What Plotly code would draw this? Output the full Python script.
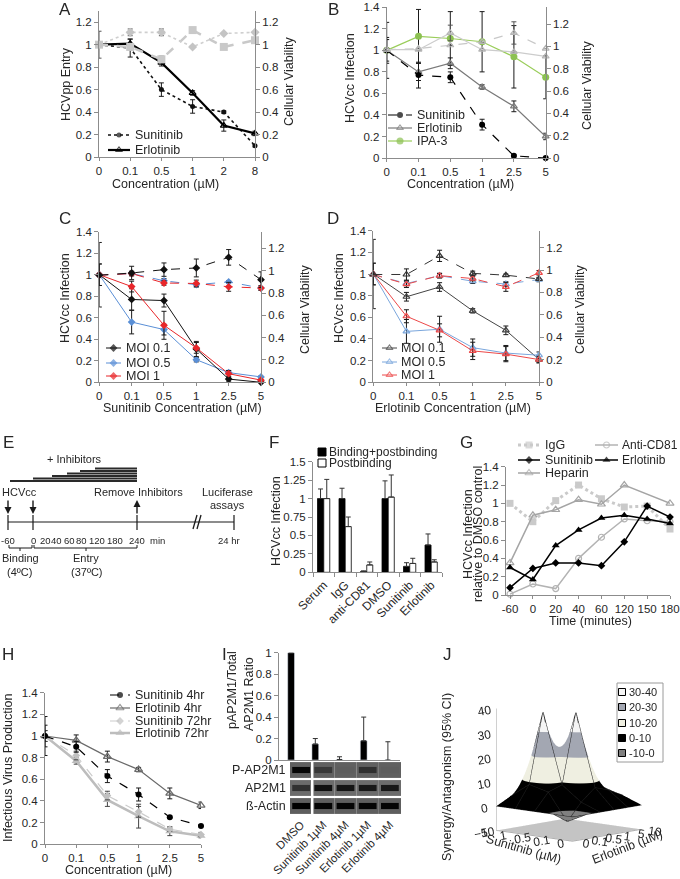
import plotly.graph_objects as go

W, H = 680, 879
FONT = "Liberation Sans, Arial, Helvetica, sans-serif"
TXT = "#262626"
AXC = "#8c8c8c"


def X(px):
    return px / W


def Y(py):
    return 1 - py / H


# ======================= DATA =======================
# Panel A
A_conc = ["0", "0.1", "0.5", "1", "2", "8"]
A_sunitinib = [1.00, 0.97, 0.60, 0.45, 0.40, 0.10]
A_sunitinib_err = [0.0, 0.08, 0.06, 0.06, 0.01, 0.01]
A_erlotinib = [1.00, 1.01, 0.84, 0.57, 0.28, 0.21]
A_erlotinib_err = [0.0, 0.04, 0.03, 0.02, 0.05, 0.02]
A_viab_sunitinib = [1.00, 1.11, 1.11, 0.98, 1.10, 1.11]
A_viab_sunitinib_err = [0.12, 0.03, 0.03, 0.0, 0.0, 0.0]
A_viab_erlotinib = [1.00, 0.98, 0.87, 1.13, 0.98, 1.04]
A_viab_erlotinib_err = [0.0, 0.0, 0.03, 0.0, 0.0, 0.0]

# Panel B
B_conc = ["0", "0.1", "0.5", "1", "2.5", "5"]
B_sunitinib = [1.00, 0.77, 0.75, 0.31, 0.02, 0.00]
B_sunitinib_err = [0.12, 0.12, 0.05, 0.05, 0.01, 0.005]
B_erlotinib = [1.00, 0.80, 0.88, 0.66, 0.48, 0.20]
B_erlotinib_err = [0.10, 0.08, 0.05, 0.02, 0.05, 0.03]
B_ipa3 = [1.00, 1.13, 1.11, 1.08, 0.94, 0.75]
B_ipa3_err = [0.26, 0.25, 0.25, 0.28, 0.29, 0.20]
B_viab_sunitinib = [0.97, 0.98, 1.01, 1.04, 1.12, 0.98]
B_viab_sunitinib_err = [0.0, 0.0, 0.0, 0.0, 0.10, 0.0]
B_viab_erlotinib = [0.97, 0.97, 1.12, 0.97, 0.95, 0.91]
B_viab_erlotinib_err = [0.0, 0.0, 0.07, 0.0, 0.0, 0.0]

# Panel C (Sunitinib, MOI series)
C_conc = ["0", "0.1", "0.5", "1", "2.5", "5"]
C_moi01 = [1.00, 0.77, 0.76, 0.31, 0.03, 0.00]
C_moi01_err = [0.30, 0.10, 0.06, 0.07, 0.02, 0.01]
C_moi05 = [1.00, 0.56, 0.49, 0.21, 0.09, 0.05]
C_moi05_err = [0.10, 0.11, 0.05, 0.02, 0.02, 0.01]
C_moi1 = [1.00, 0.89, 0.53, 0.32, 0.08, 0.02]
C_moi1_err = [0.10, 0.05, 0.13, 0.05, 0.03, 0.01]
C_viab_moi01 = [0.96, 0.98, 1.01, 1.025, 1.12, 0.92]
C_viab_moi01_err = [0.0, 0.06, 0.06, 0.08, 0.07, 0.07]
C_viab_moi05 = [0.96, 0.975, 0.91, 0.875, 0.90, 0.845]
C_viab_moi05_err = [0.0, 0.02, 0.02, 0.02, 0.01, 0.02]
C_viab_moi1 = [0.96, 0.975, 0.89, 0.886, 0.856, 0.845]
C_viab_moi1_err = [0.0, 0.02, 0.02, 0.03, 0.04, 0.02]

# Panel D (Erlotinib, MOI series)
D_conc = ["0", "0.1", "0.5", "1", "2.5", "5"]
D_moi01 = [1.00, 0.79, 0.88, 0.66, 0.48, 0.21]
D_moi01_err = [0.32, 0.04, 0.04, 0.02, 0.04, 0.03]
D_moi05 = [1.00, 0.47, 0.49, 0.32, 0.27, 0.25]
D_moi05_err = [0.10, 0.11, 0.12, 0.08, 0.07, 0.03]
D_moi1 = [1.00, 0.61, 0.48, 0.29, 0.26, 0.21]
D_moi1_err = [0.10, 0.06, 0.06, 0.08, 0.07, 0.03]
D_viab_moi01 = [0.96, 0.96, 1.126, 0.97, 0.954, 0.92]
D_viab_moi01_err = [0.0, 0.05, 0.05, 0.02, 0.01, 0.01]
D_viab_moi05 = [0.96, 0.88, 0.95, 0.90, 0.875, 0.915]
D_viab_moi05_err = [0.0, 0.02, 0.02, 0.02, 0.02, 0.02]
D_viab_moi1 = [0.96, 0.874, 0.95, 0.924, 0.85, 0.975]
D_viab_moi1_err = [0.0, 0.03, 0.02, 0.02, 0.04, 0.02]

# Panel F
F_groups = ["Serum", "IgG", "anti-CD81", "DMSO", "Sunitinib", "Erlotinib"]
F_binding_post = [1.00, 1.00, 0.01, 1.00, 0.08, 0.37]
F_binding_post_err = [0.13, 0.14, 0.01, 0.24, 0.05, 0.15]
F_postbinding = [1.00, 0.62, 0.10, 1.02, 0.12, 0.14]
F_postbinding_err = [0.26, 0.13, 0.04, 0.30, 0.07, 0.03]
F_yticks = [0, 0.25, 0.5, 0.75, 1, 1.25, 1.5]
F_yticklabels = ["0", "0.25", "0.5", "0.75", "1", "1.25", "1.5"]

# Panel G
G_time = ["-60", "0", "20", "40", "60", "120", "150", "180"]
G_igg = [1.00, 0.80, 1.03, 1.20, 1.05, 0.96, 0.97, 0.72]
G_anti_cd81 = [0.01, 0.12, 0.07, 0.40, 0.63, 0.83, 0.81, 0.80]
G_sunitinib = [0.08, 0.29, 0.35, 0.35, 0.32, 0.58, 0.97, 0.85]
G_erlotinib = [0.30, 0.17, 0.54, 0.71, 0.84, 0.87, 0.83, 0.78]
G_heparin = [0.35, 0.87, 0.93, 1.04, 0.99, 1.20, None, 1.00]

# Panel H
H_conc = ["0", "0.1", "0.5", "1", "2.5", "5"]
H_sun_4hr = [1.00, 0.90, 0.63, 0.46, 0.25, 0.17]
H_sun_4hr_err = [0.18, 0.05, 0.06, 0.06, 0.01, 0.01]
H_erl_4hr = [1.00, 0.96, 0.81, 0.69, 0.47, 0.36]
H_erl_4hr_err = [0.10, 0.05, 0.05, 0.02, 0.05, 0.03]
H_sun_72hr = [1.00, 0.82, 0.45, 0.30, 0.14, 0.09]
H_sun_72hr_err = [0.05, 0.04, 0.04, 0.05, 0.02, 0.02]
H_erl_72hr = [1.00, 0.77, 0.41, 0.26, 0.12, 0.08]
H_erl_72hr_err = [0.05, 0.03, 0.06, 0.11, 0.04, 0.02]

# Panel I
I_lanes = ["DMSO", "Sunitinib 1µM", "Sunitinib 4µM", "Erlotinib 1µM", "Erlotinib 4µM"]
I_ratio = [1.00, 0.15, 0.005, 0.18, 0.0]
I_ratio_err = [0.0, 0.05, 0.025, 0.22, 0.17]
I_blot_rows = ["P-AP2M1", "AP2M1", "ß-Actin"]
I_band_p_ap2m1 = [0.90, 0.22, 0.05, 0.35, 0.05]
I_band_ap2m1 = [0.40, 0.80, 0.75, 0.70, 0.70]
I_band_actin = [1.00, 0.95, 0.95, 0.95, 0.95]

# Panel J
J_sunitinib = ["0", "0.1", "0.5", "1", "5"]
J_erlotinib = ["0", "0.1", "0.5", "1", "5", "10"]
J_synergy = [
    [0, 0, 0, 0, 0, 0],
    [0, -4, 3, 8, 6, 3],
    [0, 7, 9, 38, 9, 5],
    [0, 9, 38, 9, 7, 4],
    [0, 3, 6, 5, 3, 2],
]
J_bins = ["30-40", "20-30", "10-20", "0-10", "-10-0"]
J_bin_colors = ["#f5f5f5", "#a3a7b2", "#efefe1", "#000000", "#808080"]

# ======================= FIGURE =======================
fig = go.Figure()
axes = {}
annotations = []
shapes = []


def tfont(size=11, color=TXT):
    return dict(family=FONT, size=size, color=color)


def add_x(name, x0, x1, anchor, **kw):
    d = dict(domain=[X(x0), X(x1)], anchor=anchor, showline=True, linecolor=AXC,
             linewidth=1, ticks="outside", ticklen=3, tickcolor=AXC, showgrid=False,
             zeroline=False, tickfont=tfont(11.5), fixedrange=True, automargin=False)
    d.update(kw)
    axes[name] = d


def add_y(name, ytop, ybot, anchor, rng, dtick=0.2, **kw):
    d = dict(domain=[Y(ybot), Y(ytop)], anchor=anchor, range=rng, dtick=dtick, tick0=0,
             showline=True, linecolor=AXC, linewidth=1, ticks="outside", ticklen=4,
             tickcolor=AXC, showgrid=False, zeroline=False, tickfont=tfont(11.5),
             fixedrange=True, automargin=False)
    d.update(kw)
    axes[name] = d


def ann(text, px, py, size=12, angle=0, xanchor="center", yanchor="middle", color=TXT):
    annotations.append(dict(text=text, x=X(px), y=Y(py), xref="paper", yref="paper",
                            showarrow=False, font=tfont(size, color), textangle=angle,
                            xanchor=xanchor, yanchor=yanchor))


def series(x, y, xa, ya, color, dash="solid", width=1.2, symbol="circle", size=6,
           mcolor=None, err=None, errcolor="#1a1a1a", errwidth=2.5, connectgaps=False):
    mc = mcolor or color
    marker = dict(symbol=symbol, size=size, color=mc,
                  line=dict(width=1.2 if "open" in symbol else 0, color=mc))
    tr = go.Scatter(x=x, y=y, xaxis=xa, yaxis=ya, mode="lines+markers",
                    line=dict(color=color, dash=dash, width=width), marker=marker,
                    cliponaxis=False, showlegend=False, hoverinfo="skip",
                    connectgaps=connectgaps)
    if err is not None:
        tr.error_y = dict(type="data", array=err, visible=True, color=errcolor,
                          thickness=1, width=errwidth)
    fig.add_trace(tr)


# overlay axis in pixel units (legends + schematic E)
axes["xaxis11"] = dict(domain=[0, 1], range=[0, W], visible=False, fixedrange=True,
                       anchor="y15", automargin=False)
axes["yaxis15"] = dict(domain=[0, 1], range=[H, 0], visible=False, fixedrange=True,
                       anchor="x11", automargin=False)


def leg(x0, x1, py, label, color, dash="solid", width=1.2, symbol="circle", size=6,
        mcolor=None, tx=None, fs=12):
    mc = mcolor or color
    fig.add_trace(go.Scatter(
        x=[x0, (x0 + x1) / 2, x1], y=[py, py, py], xaxis="x11", yaxis="y15",
        mode="lines+markers", line=dict(color=color, dash=dash, width=width),
        marker=dict(symbol=symbol, size=[0, size, 0], color=mc,
                    line=dict(width=1.2 if "open" in symbol else 0, color=mc)),
        showlegend=False, hoverinfo="skip", cliponaxis=False))
    ann(label, tx if tx is not None else x1 + 3, py, fs, xanchor="left")


def seg(xs, ys, color="#1a1a1a", width=1.2):
    fig.add_trace(go.Scatter(x=xs, y=ys, xaxis="x11", yaxis="y15", mode="lines",
                             line=dict(color=color, width=width), showlegend=False,
                             hoverinfo="skip", cliponaxis=False))


# ---------------- Panel A ----------------
add_x("xaxis", 99, 255, "y", type="category", range=[0, 5])
add_y("yaxis", 11, 157, "x", [0, 1.3])
add_y("yaxis2", 11, 157, "x", [0, 1.3], overlaying="y", side="right")
series(A_conc, A_viab_erlotinib, "x", "y2", "#c9c9c9", "dash", 2.5, "square", 8,
       err=A_viab_erlotinib_err, errcolor="#9a9a9a")
series(A_conc, A_viab_sunitinib, "x", "y2", "#cfcfcf", "dot", 1.6, "diamond", 7,
       mcolor="#c4c4c4", err=A_viab_sunitinib_err, errcolor="#555555")
series(A_conc, A_sunitinib, "x", "y", "#111111", "dot", 1.6, "circle", 5,
       err=A_sunitinib_err)
series(A_conc, A_erlotinib, "x", "y", "#000000", "solid", 2.2, "triangle-up-open", 6,
       err=A_erlotinib_err)
ann("A", 65, 10, 17)
ann("HCVpp Entry", 66, 84, 12.5, -90)
ann("Cellular Viability", 289, 82, 12.5, -90)
ann("Concentration (µM)", 165, 184, 12.5)
leg(108, 130, 135, "Sunitinib", "#111111", "dot", 1.6, "circle", 5, fs=12.5)
leg(108, 130, 150, "Erlotinib", "#000000", "solid", 2.2, "triangle-up-open", 6, fs=12.5)

# ---------------- Panel B ----------------
add_x("xaxis2", 386.7, 545.7, "y3", type="category", range=[0, 5])
add_y("yaxis3", 7.3, 158, "x2", [0, 1.4])
add_y("yaxis4", 7.3, 158, "x2", [0, 1.35], overlaying="y3", side="right")
series(B_conc, B_viab_sunitinib, "x2", "y4", "#c8c8c8", "dash", 1.2, "triangle-up-open", 6,
       mcolor="#b5b5b5", err=B_viab_sunitinib_err, errcolor="#555555")
series(B_conc, B_viab_erlotinib, "x2", "y4", "#cccccc", "solid", 1.2, "triangle-up-open", 6,
       mcolor="#b5b5b5", err=B_viab_erlotinib_err, errcolor="#555555")
series(B_conc, B_ipa3, "x2", "y3", "#9acd5a", "solid", 1.2, "circle", 7,
       mcolor="#8cc152", err=B_ipa3_err)
series(B_conc, B_erlotinib, "x2", "y3", "#7a7a7a", "solid", 1.2, "triangle-up-open", 6,
       err=B_erlotinib_err)
series(B_conc, B_sunitinib, "x2", "y3", "#000000", "dash", 1.2, "circle", 6,
       err=B_sunitinib_err)
ann("B", 333, 10, 17)
ann("HCVcc Infection", 350, 78, 12.5, -90)
ann("Cellular Viability", 587, 86, 12.5, -90)
ann("Concentration (µM)", 460, 184, 12.5)
leg(388, 412, 115, "Sunitinib", "#000000", "dash", 1.2, "circle", 6, fs=12.5)
leg(388, 412, 128, "Erlotinib", "#7a7a7a", "solid", 1.2, "triangle-up-open", 6, fs=12.5)
leg(388, 412, 141, "IPA-3", "#9acd5a", "solid", 1.2, "circle", 7, mcolor="#8cc152", fs=12.5)

# ---------------- Panel C ----------------
BLUE_C, RED_C = "#5a8fd6", "#e8262a"
add_x("xaxis3", 99.3, 261, "y5", type="category", range=[0, 5])
add_y("yaxis5", 231.7, 382.3, "x3", [0, 1.4])
add_y("yaxis6", 231.7, 382.3, "x3", [0, 1.35], overlaying="y5", side="right")
series(C_conc, C_viab_moi05, "x3", "y6", BLUE_C, "dash", 1.0, "diamond", 6, err=C_viab_moi05_err)
series(C_conc, C_viab_moi1, "x3", "y6", RED_C, "dash", 1.0, "diamond", 6, err=C_viab_moi1_err)
series(C_conc, C_viab_moi01, "x3", "y6", "#111111", "dash", 1.0, "diamond", 6, err=C_viab_moi01_err)
series(C_conc, C_moi05, "x3", "y5", BLUE_C, "solid", 1.0, "diamond", 6, err=C_moi05_err)
series(C_conc, C_moi01, "x3", "y5", "#111111", "solid", 1.0, "diamond", 6, err=C_moi01_err)
series(C_conc, C_moi1, "x3", "y5", RED_C, "solid", 1.0, "diamond", 6, err=C_moi1_err)
ann("C", 65, 219, 17)
ann("HCVcc Infection", 65, 298, 12.5, -90)
ann("Cellular Viability", 305, 310, 12.5, -90)
ann("Sunitinib Concentration (µM)", 182, 408, 12.5)
leg(106, 121, 348, "MOI 0.1", "#111111", "solid", 1.0, "diamond", 6, tx=124, fs=12.5)
leg(106, 121, 363, "MOI 0.5", BLUE_C, "solid", 1.0, "diamond", 6, tx=124, fs=12.5)
leg(106, 121, 376, "MOI 1", RED_C, "solid", 1.0, "diamond", 6, tx=124, fs=12.5)

# ---------------- Panel D ----------------
BLUE_D, RED_D = "#7aa6dc", "#ec4848"
add_x("xaxis4", 373.3, 539, "y7", type="category", range=[0, 5])
add_y("yaxis7", 230.7, 382.3, "x4", [0, 1.4])
add_y("yaxis8", 230.7, 382.3, "x4", [0, 1.35], overlaying="y7", side="right")
series(D_conc, D_viab_moi05, "x4", "y8", BLUE_D, "dash", 1.0, "triangle-up-open", 6, err=D_viab_moi05_err)
series(D_conc, D_viab_moi1, "x4", "y8", RED_D, "dash", 1.0, "triangle-up-open", 6, err=D_viab_moi1_err)
series(D_conc, D_viab_moi01, "x4", "y8", "#333333", "dash", 1.0, "triangle-up-open", 6, err=D_viab_moi01_err)
series(D_conc, D_moi01, "x4", "y7", "#444444", "solid", 1.0, "triangle-up-open", 6, err=D_moi01_err)
series(D_conc, D_moi05, "x4", "y7", BLUE_D, "solid", 1.0, "triangle-up-open", 6, err=D_moi05_err)
series(D_conc, D_moi1, "x4", "y7", RED_D, "solid", 1.0, "triangle-up-open", 6, err=D_moi1_err)
ann("D", 333, 219, 17)
ann("HCVcc Infection", 339, 298, 12.5, -90)
ann("Cellular Viability", 580, 310, 12.5, -90)
ann("Erlotinib Concentration (µM)", 453, 408, 12.5)
leg(382, 397, 348, "MOI 0.1", "#444444", "solid", 1.0, "triangle-up-open", 6, tx=399, fs=12.5)
leg(382, 397, 362, "MOI 0.5", BLUE_D, "solid", 1.0, "triangle-up-open", 6, tx=399, fs=12.5)
leg(382, 397, 375, "MOI 1", RED_D, "solid", 1.0, "triangle-up-open", 6, tx=399, fs=12.5)

# ---------------- Panel E (schematic) ----------------
ann("E", 8, 442, 17)
seg([8, 234], [522, 522])
for tx_ in (8, 33, 137, 234):
    seg([tx_, tx_], [515, 530])
seg([193, 197], [529, 515], width=1.3)
seg([197, 201], [529, 515], width=1.3)
for yb, xs in zip([481, 478.5, 476, 473.5, 471, 468.5], [10, 33, 52, 67, 80, 95]):
    seg([xs, 137], [yb, yb], color="#2a2a2a", width=1.8)
for xa_, ya_, ay_ in ((8, 514, -15), (33, 514, -15), (137, 500, 15)):
    annotations.append(dict(x=xa_, y=ya_, xref="x11", yref="y15", ax=0, ay=ay_,
                            showarrow=True, arrowhead=2, arrowsize=1, arrowwidth=1.4,
                            arrowcolor="#1a1a1a", text=""))
# brackets
seg([9, 9, 32, 32], [545, 548, 548, 545], width=1)
seg([20, 20], [548, 551], width=1)
seg([34, 34, 137, 137], [545, 548, 548, 545], width=1)
seg([86, 86], [548, 551], width=1)
ann("+ Inhibitors", 74, 459, 11)
ann("HCVcc", 19, 492, 11)
ann("Remove Inhibitors", 138, 492, 11)
ann("Luciferase", 227, 492, 11)
ann("assays", 227, 505, 11)
ann("-60", 8, 540, 9.5)
for lab, px in zip(["0", "20", "40", "60", "80", "120", "180", "240"],
                   [33, 45, 57, 69, 81, 97, 115, 137]):
    ann(lab, px, 540, 9.5)
ann("min", 157, 540, 9.5)
ann("24 hr", 229, 540, 9.5)
ann("Binding", 20, 558, 11)
ann("(4ºC)", 19, 572, 11)
ann("Entry", 86, 558, 11)
ann("(37ºC)", 87, 572, 11)

# ---------------- Panel F ----------------
add_x("xaxis6", 313, 442, "y10", type="category", range=[-0.5, 5.5], tickangle=-45,
      ticks="outside", tickson="boundaries", ticklen=4, tickfont=tfont(12))
add_y("yaxis10", 461.7, 572.3, "x6", [0, 1.5], tickvals=F_yticks, ticktext=F_yticklabels)
fig.add_trace(go.Bar(x=F_groups, y=F_binding_post, xaxis="x6", yaxis="y10", width=0.28,
                     offset=-0.29, marker=dict(color="#000000", line=dict(width=0.8, color="#000")),
                     error_y=dict(type="data", array=F_binding_post_err,
                                  arrayminus=[0] * len(F_groups), symmetric=False,
                                  color="#333", thickness=1, width=2.5),
                     showlegend=False, hoverinfo="skip"))
fig.add_trace(go.Bar(x=F_groups, y=F_postbinding, xaxis="x6", yaxis="y10", width=0.28,
                     offset=0.0, marker=dict(color="#ffffff", line=dict(width=0.8, color="#000")),
                     error_y=dict(type="data", array=F_postbinding_err,
                                  arrayminus=[0] * len(F_groups), symmetric=False,
                                  color="#333", thickness=1, width=2.5),
                     showlegend=False, hoverinfo="skip"))
ann("F", 274, 442, 17)
ann("HCVcc Infection", 276, 521, 12.5, -90)
for py, lab, fc in ((452, "Binding+postbinding", "#000000"), (463, "Postbinding", "#ffffff")):
    fig.add_trace(go.Scatter(x=[322], y=[py], xaxis="x11", yaxis="y15", mode="markers",
                             marker=dict(symbol="square", size=8, color=fc,
                                         line=dict(width=1, color="#000")),
                             showlegend=False, hoverinfo="skip", cliponaxis=False))
    ann(lab, 327, py, 12, xanchor="left")

# ---------------- Panel G ----------------
add_x("xaxis7", 506, 670, "y11", type="category", range=[-0.175, 7])
add_y("yaxis11", 466.7, 595, "x7", [0, 1.4])
series(G_time, G_igg, "x7", "y11", "#cacaca", "dot", 3, "square", 7)
series(G_time, G_anti_cd81, "x7", "y11", "#b3b3b3", "solid", 1.5, "circle-open", 6)
series(G_time, G_heparin, "x7", "y11", "#a5a5a5", "solid", 1.5, "triangle-up-open", 7,
       connectgaps=True)
series(G_time, G_erlotinib, "x7", "y11", "#000000", "solid", 1.5, "triangle-up", 7)
series(G_time, G_sunitinib, "x7", "y11", "#000000", "solid", 1.5, "diamond", 6)
ann("G", 466, 442, 17)
ann("HCVcc Infection", 468, 534, 12.5, -90)
ann("relative to DMSO control", 478, 534, 12.5, -90)
ann("Time (minutes)", 590, 621, 12.5)
leg(518, 540, 445, "IgG", "#cacaca", "dot", 3, "square", 7, tx=543, fs=12.5)
leg(595, 618, 445, "Anti-CD81", "#b3b3b3", "solid", 1.5, "circle-open", 6, tx=620, fs=12)
leg(518, 540, 460, "Sunitinib", "#000000", "solid", 1.5, "diamond", 6, tx=543, fs=12.5)
leg(595, 618, 460, "Erlotinib", "#000000", "solid", 1.5, "triangle-up", 7, tx=620, fs=12)
leg(518, 540, 473, "Heparin", "#a5a5a5", "solid", 1.5, "triangle-up-open", 7, tx=543, fs=12.5)

# ---------------- Panel H ----------------
add_x("xaxis8", 45, 201, "y12", type="category", range=[0, 5])
add_y("yaxis12", 692.7, 844.3, "x8", [0, 1.4])
series(H_conc, H_erl_72hr, "x8", "y12", "#bdbdbd", "solid", 2.5, "triangle-up", 8,
       err=H_erl_72hr_err, errcolor="#444")
series(H_conc, H_sun_72hr, "x8", "y12", "#cccccc", "dash", 1.2, "diamond", 6,
       mcolor="#c0c0c0", err=H_sun_72hr_err, errcolor="#444")
series(H_conc, H_erl_4hr, "x8", "y12", "#6a6a6a", "solid", 1.2, "triangle-up-open", 7,
       err=H_erl_4hr_err)
series(H_conc, H_sun_4hr, "x8", "y12", "#000000", "dash", 1.2, "circle", 6,
       err=H_sun_4hr_err)
ann("H", 8, 654, 17)
ann("Infectious Virus Production", 8, 768, 12.5, -90)
ann("Concentration (µM)", 118, 870, 12.5)
leg(110, 130, 695, "Sunitinib 4hr", "#000000", "dash", 1.2, "circle", 6, tx=133, fs=12.5)
leg(110, 130, 708, "Erlotinib 4hr", "#6a6a6a", "solid", 1.2, "triangle-up-open", 7, tx=133, fs=12.5)
leg(110, 130, 721, "Sunitinib 72hr", "#cccccc", "dash", 1.2, "diamond", 6, mcolor="#c0c0c0", tx=133, fs=12.5)
leg(110, 130, 733, "Erlotinib 72hr", "#bdbdbd", "solid", 2.5, "triangle-up", 8, tx=133, fs=12.5)

# ---------------- Panel I ----------------
add_x("xaxis9", 279, 400, "y13", type="category", range=[-0.5, 4.5], showticklabels=False,
      ticks="")
add_y("yaxis13", 652.7, 760, "x9", [0, 1], dtick=0.2)
fig.add_trace(go.Bar(x=I_lanes, y=I_ratio, xaxis="x9", yaxis="y13", width=0.28,
                     marker=dict(color="#000000"),
                     error_y=dict(type="data", array=I_ratio_err,
                                  arrayminus=[0] * len(I_lanes), symmetric=False,
                                  color="#333", thickness=1, width=2.5),
                     showlegend=False, hoverinfo="skip"))
lane_idx = list(range(len(I_lanes)))
add_x("xaxis10", 290, 401, "y14", range=[-0.5, 4.5], showline=False, ticks="",
      tickvals=lane_idx, ticktext=I_lanes, tickangle=-45, tickfont=tfont(11.5))
axes["yaxis14"] = dict(domain=[Y(815), Y(761)], anchor="x10", range=[0, 3], visible=False,
                       fixedrange=True, automargin=False)


def shade(level, inten):
    v = int(round(level * (1 - inten)))
    return "#%02x%02x%02x" % (v, v, v)


for rc, bands, bg in ((2.5, I_band_p_ap2m1, 0x60), (1.5, I_band_ap2m1, 0x6c),
                      (0.5, I_band_actin, 0x5e)):
    n = len(bands)
    fig.add_trace(go.Bar(x=lane_idx, y=[0.88] * n, base=[rc - 0.44] * n, xaxis="x10",
                         yaxis="y14", width=1.0, offset=-0.5,
                         marker=dict(color=shade(bg, 0), line=dict(width=0)),
                         showlegend=False, hoverinfo="skip"))
    fig.add_trace(go.Bar(x=lane_idx, y=[0.34] * n, base=[rc - 0.17] * n, xaxis="x10",
                         yaxis="y14", width=0.8, offset=-0.4,
                         marker=dict(color=[shade(bg, 0.25 + 0.75 * b) if b > 0.1 else shade(bg, 0.03) for b in bands],
                                     line=dict(width=0)),
                         showlegend=False, hoverinfo="skip"))
shapes.append(dict(type="line", xref="x10", yref="y14", x0=0.5, x1=0.5, y0=0, y1=3,
                   line=dict(color="#ffffff", width=2.5)))
ann("I", 224, 654, 17)
ann("pAP2M1/Total", 232, 690, 12.5, -90)
ann("AP2M1 Ratio", 249, 694, 12.5, -90)
for lab, py in zip(I_blot_rows, (770, 788, 806)):
    ann(lab, 288, py, 12.5, xanchor="right")

# ---------------- Panel J (3D surface) ----------------
step_scale = [[0.0, J_bin_colors[4]], [0.2, J_bin_colors[4]],
              [0.2, J_bin_colors[3]], [0.4, J_bin_colors[3]],
              [0.4, J_bin_colors[2]], [0.6, J_bin_colors[2]],
              [0.6, J_bin_colors[1]], [0.8, J_bin_colors[1]],
              [0.8, J_bin_colors[0]], [1.0, J_bin_colors[0]]]
flat_light = dict(ambient=1.0, diffuse=0.0, specular=0.0, roughness=1.0, fresnel=0.0)
xi = list(range(len(J_erlotinib)))
yi = list(range(len(J_sunitinib)))
fig.add_trace(go.Surface(x=xi, y=yi, z=J_synergy, colorscale=step_scale, cmin=-10, cmax=40,
                         showscale=False, lighting=flat_light, hoverinfo="skip", scene="scene",
                         contours=dict(
                             x=dict(show=True, color="#222", width=1, start=0, end=xi[-1], size=1),
                             y=dict(show=True, color="#222", width=1, start=0, end=yi[-1], size=1))))
ax3 = dict(showgrid=False, zeroline=False, showline=True,
           linecolor="#a0a0a0", ticks="", title=dict(text=""), tickfont=tfont(12),
           showspikes=False)
scene = dict(
    domain=dict(x=[X(458), X(680)], y=[Y(872), Y(666)]),
    xaxis=dict(ax3, tickvals=xi, ticktext=J_erlotinib, range=[0, xi[-1]], showbackground=False),
    yaxis=dict(ax3, tickvals=yi, ticktext=J_sunitinib, range=[0, yi[-1]], showbackground=False),
    zaxis=dict(ax3, range=[-10, 40], tickvals=[-10, 0, 10, 20, 30, 40],
               showbackground=True, backgroundcolor="#c4c4c4"),
    camera=dict(eye=dict(x=-1.4, y=-1.27, z=0.3), center=dict(x=0, y=0, z=0),
                projection=dict(type="orthographic")),
    aspectmode="manual", aspectratio=dict(x=1.0, y=1.0, z=1.2),
    bgcolor="rgba(0,0,0,0)")
ann("J", 447, 654, 17)
ann("Synergy/Antagonism (95% CI)", 447, 777, 12.5, -90)
ann("Sunitinib (µM)", 523, 849, 12.5, 16)
ann("Erlotinib (µM)", 627, 847, 12.5, -21)
shapes.append(dict(type="rect", xref="paper", yref="paper", x0=X(617), x1=X(663),
                   y0=Y(762), y1=Y(683), line=dict(color="#9a9a9a", width=1),
                   fillcolor="#ffffff", layer="below"))
for lab, col, py in zip(J_bins, J_bin_colors, (692, 707, 723, 738, 753)):
    fig.add_trace(go.Scatter(x=[622], y=[py], xaxis="x11", yaxis="y15", mode="markers",
                             marker=dict(symbol="square", size=7, color=col,
                                         line=dict(width=1, color="#000")),
                             showlegend=False, hoverinfo="skip", cliponaxis=False))
    ann(lab, 627, py, 11, xanchor="left")

fig.update_layout(
    width=W, height=H, margin=dict(l=0, r=0, t=0, b=0, pad=0, autoexpand=False),
    paper_bgcolor="#ffffff", plot_bgcolor="rgba(0,0,0,0)",
    font=tfont(11), showlegend=False, hovermode=False, barmode="overlay",
    annotations=annotations, shapes=shapes, scene=scene, **axes)

# the page's default 8px body margin would offset the fixed-size figure
fig.write_html("out.html", config={"displayModeBar": False, "staticPlot": False},
               post_script="document.body.style.margin='0px';document.body.style.overflow='hidden';")
